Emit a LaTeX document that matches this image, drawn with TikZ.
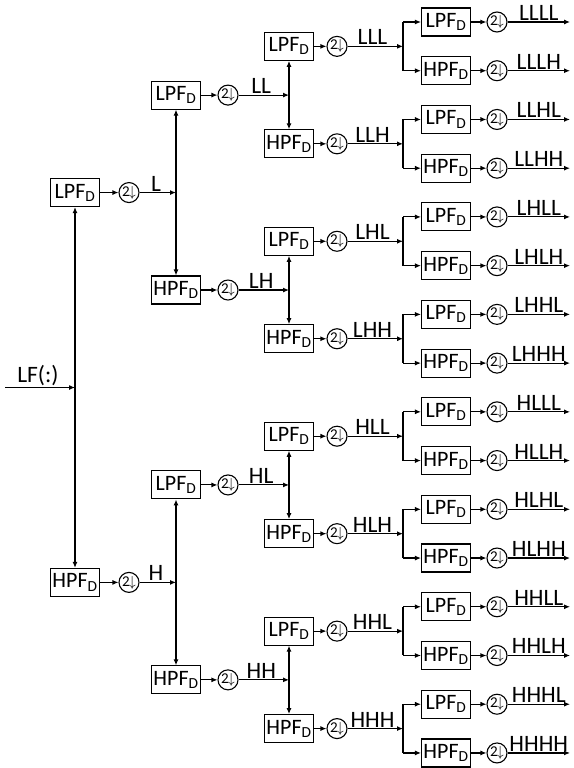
\documentclass[tikz,border=0pt]{standalone}
\usepackage{fontspec}
\setmainfont{Carlito}
\usetikzlibrary{arrows.meta, calc, positioning}
\tikzset{
  flow/.style  = {-{Latex[length=6pt,width=5pt]}, line width=1.1pt, black},
  fork/.style  = {{Latex[length=6pt,width=5pt]}-{Latex[length=6pt,width=5pt]}, line width=1.1pt, black},
  wire/.style  = {line width=1.1pt, black},
  lbl/.style   = {font=\fontsize{23.5}{23.5}\selectfont, inner sep=1pt},
}

\begin{document}
\begin{tikzpicture}[x=1pt, y=-1pt,
  filt/.style = {draw, line width=1.1pt, minimum width=49pt, minimum height=28pt,
                 inner sep=0pt, font=\fontsize{22}{22}\selectfont},
  dsmp/.style = {circle, draw, line width=1.1pt, minimum size=20pt, inner sep=0pt,
                 font=\fontsize{15}{15}\selectfont},
]
\useasboundingbox (0,0) rectangle (573,768);

% ---- input signal ----------------------------------------------------------
\coordinate (in) at (5,387.5);
\coordinate (j)  at (75,387.5);
\draw[flow] (in) -- node[lbl, above, pos=0.47] (lf) {LF(:)} (j);

% ---- stages 1 to 3: filter, downsampler, branch point ----------------------
\foreach \lv/\bx/\dx/\jx/\nl in {1/75/129/176/{L,H},
                                 2/176/228/289/{LL,LH,HL,HH},
                                 3/289/337/403/{LLL,LLH,LHL,LHH,HLL,HLH,HHL,HHH}} {
  \foreach \nm [count=\i from 0] in \nl {
    \pgfmathsetmacro{\yy}{22+48.73*(2^(4-\lv)*\i+(2^(4-\lv)-1)/2)}
    \node[filt] (b\nm) at (\bx,\yy) {\ifodd\i HPF\else LPF\fi\textsubscript{D}};
    \node[dsmp] (d\nm) at (\dx,\yy) {2\kern-1pt$\downarrow$};
    \coordinate (j\nm) at (\jx,\yy);
    \draw[flow] (b\nm) -- (d\nm);
    \draw[flow] (d\nm) -- node[lbl, above, pos=0.45] (t\nm) {\nm} (j\nm);
  }
}

% ---- splits between the stages ----------------------------------------------
\draw[fork] (bL.south) -- (bH.north);
\foreach \p in {L,H,LL,LH,HL,HH} {
  \draw[fork] (b\p L.south) -- (b\p H.north);
}

% ---- stage 4: sixteen outputs ----------------------------------------------
\foreach \nm [count=\i from 0] in {LLLL,LLLH,LLHL,LLHH,LHLL,LHLH,LHHL,LHHH,
                                   HLLL,HLLH,HLHL,HLHH,HHLL,HHLH,HHHL,HHHH} {
  \pgfmathsetmacro{\yy}{22+48.73*\i}
  \node[filt] (b\nm) at (446,\yy) {\ifodd\i HPF\else LPF\fi\textsubscript{D}};
  \node[dsmp] (d\nm) at (497,\yy) {2\kern-1pt$\downarrow$};
  \coordinate (o\nm) at (570,\yy);
  \draw[flow] (b\nm) -- (d\nm);
  \draw[flow] (d\nm) -- node[lbl, above] (t\nm) {\nm} (o\nm);
}
\foreach \p in {LLL,LLH,LHL,LHH,HLL,HLH,HHL,HHH} {
  \draw[wire] (b\p L.west -| j\p) -- (b\p H.west -| j\p);
  \draw[flow] (b\p L.west -| j\p) -- (b\p L.west);
  \draw[flow] (b\p H.west -| j\p) -- (b\p H.west);
}

\end{tikzpicture}
\end{document}
